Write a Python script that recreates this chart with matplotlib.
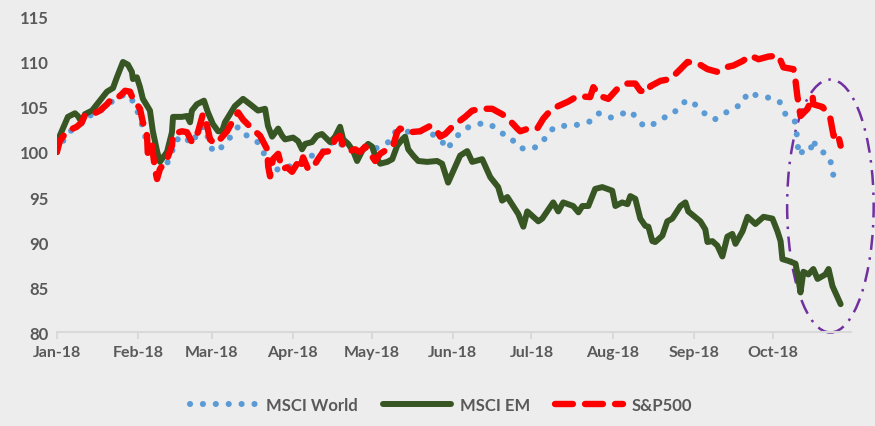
import matplotlib
matplotlib.use("Agg")
import matplotlib.pyplot as plt
import matplotlib.dates as mdates
from matplotlib.patches import Ellipse
import pandas as pd

# days since 2018-01-01, index level (rebased to 100)
em_days = [0, 1.1, 4.2, 6.9, 8.0, 9.5, 10.7, 13.4, 16.4, 19.1, 21.4, 22.9, 25.2, 27.1, 28.6, 29, 30.5,
           31.7, 32.8, 35.5, 36.6, 38.2, 39.3, 40.5, 42, 43.9, 44.3, 47.7, 49.6, 50.8, 51.5, 53.4, 56.1,
           57.6, 59.5, 61.5, 63, 64.1, 66, 67.9, 71, 73.7, 76.7, 79.4, 80.5, 82.1, 84.4, 85.9, 87, 90.1,
           92, 93.5, 94.7, 97.3, 99.2, 101.1, 104.2, 106.1, 108, 109.2, 111.1, 113, 114.5, 116.4, 118.7,
           120.2, 121.4, 123.3, 126, 127.9, 129.8, 131.7, 132.8, 134, 135.9, 137.8, 141.2, 145, 146.9,
           149.2, 153.8, 156.5, 158.4, 162.2, 165.3, 168.3, 169.8, 171.8, 176, 177.9, 179.4, 183.6, 185.1,
           189.3, 191.2, 193.1, 196.9, 198.9, 200.4, 202.7, 205.3, 208, 211.8, 213, 215.6, 217.6, 218.7,
           220.6, 222.5, 224.4, 225.6, 227.1, 228.2, 230.9, 232.8, 234.7, 237.8, 239.7, 240.8, 245.4,
           247.3, 248.1, 250, 251.9, 253.8, 255.7, 257.6, 258.8, 261.5, 263.4, 266.4, 269.5, 272.9, 274.8,
           276, 276.7, 279, 281.7, 282.8, 283.6, 284.7, 286.6, 288.5, 290.1, 293.1, 294.3, 295.8, 296.9,
           298.9]
em_vals = [100, 101.8, 103.9, 104.3, 104, 103.3, 104.2, 104.6, 105.7, 106.7, 107.1, 108.3, 110, 109.7,
           108.9, 108.1, 108.3, 107.2, 105.9, 104.6, 102.3, 100.1, 98.9, 99.4, 100, 102.2, 103.9, 103.9,
           104, 103.3, 104.6, 105.3, 105.7, 104.4, 103.1, 102.3, 102.3, 103.3, 104.2, 105.1, 105.9, 105.3,
           104.6, 104.8, 102.9, 101.7, 102.6, 101.8, 101.4, 101.6, 101.2, 100.3, 100.9, 101.1, 101.8, 102,
           101.1, 101.7, 102.8, 101.4, 100.9, 100.1, 99, 100.1, 100.9, 100.6, 99.6, 98.7, 98.9, 99.2, 100.7,
           101.4, 101.7, 100.3, 99.6, 99, 98.9, 99, 98.7, 96.6, 99.6, 100.1, 98.9, 99.2, 97.2, 96.1, 94.6,
           95, 93.1, 91.7, 93.4, 92.3, 92.6, 94.4, 93.4, 94.4, 94, 93.3, 94, 94, 95.9, 96.1, 95.7, 94, 94.4,
           94.2, 95.1, 94.8, 92.6, 91.8, 91.7, 90.1, 90, 90.7, 92.3, 92.6, 94, 94.4, 93.4, 92.3, 91.4, 90,
           90.1, 89.6, 88.4, 90.6, 90.9, 89.8, 91.2, 92.8, 92, 92.8, 92.6, 91.2, 90.1, 88.1, 87.9, 87.6,
           85.9, 84.4, 86.7, 86.4, 87, 85.9, 86.4, 87, 85.1, 84.4, 83.1]

spx_days = [0, 1.1, 3.8, 7.6, 9.5, 10.7, 13.7, 16.4, 19.1, 21.4, 24, 26, 27.9, 29, 31.7, 32.8, 34.4,
            34.7, 36.3, 37.4, 38.2, 39.3, 42, 43.9, 44.3, 47.7, 49.6, 51.5, 53.8, 55.7, 57.3, 58.4, 60.3,
            62.2, 64.9, 66.8, 69.1, 71, 74.4, 77.5, 80.2, 80.6, 81.3, 82.4, 84.4, 85.9, 87.8, 89.7, 91.6,
            92.7, 93.9, 95.8, 97.7, 99.6, 101.5, 104.2, 106.1, 108, 109.2, 111.8, 113.7, 115.6, 117.6,
            119.5, 121.4, 123.3, 126, 128.2, 129.8, 130.9, 134.7, 138.5, 142.4, 145, 146.2, 148.1, 151.1,
            155.7, 158.4, 162.2, 166, 169.8, 172.1, 175.6, 176.7, 179.8, 183.2, 185.5, 188.2, 191.2, 195,
            198.5, 203.4, 204.6, 207.3, 210.3, 213.7, 217.6, 220.6, 222.5, 225.6, 226.3, 230.2, 234,
            237.8, 240.5, 244.7, 248.1, 251.9, 255, 258, 261.5, 264.5, 267.6, 271.4, 275.2, 277.1, 280.9,
            281.7, 282.4, 283.6, 286.3, 288.2, 288.5, 292, 293.1, 295, 296.2, 297.7, 298.9]
spx_vals = [100, 101.2, 102.3, 102.8, 103.3, 104.1, 104.2, 104.6, 105.3, 106.1, 106.2, 106.8, 106.7,
            105.9, 104.8, 103.3, 101.8, 99.6, 100.7, 98.1, 97, 98.1, 99.2, 100.7, 102, 102.3, 102.2,
            101.1, 102.2, 104.2, 102.9, 101.4, 100.9, 101.4, 102.3, 103.3, 104.4, 103.6, 102.6, 101.8,
            100.3, 98.4, 97.3, 99.2, 99.8, 98.1, 98.3, 97.8, 98.7, 98.1, 99.4, 98.1, 98.3, 99.2, 100,
            100.1, 101.4, 101.8, 100.6, 100.1, 100.3, 100, 100.6, 99.8, 99, 99.8, 100.3, 100.7, 102.2,
            102.6, 102.2, 102.3, 102.9, 102.3, 101.7, 102, 102.9, 103.9, 104.6, 104.8, 104.8, 104.2,
            103.7, 102.6, 102.3, 102.6, 102.6, 103.7, 104.6, 105.1, 105.6, 106.2, 106.1, 107.2, 106.2,
            105.9, 107, 107.6, 107.6, 106.8, 106.7, 107.3, 107.9, 108.1, 109.2, 110, 109.8, 109.2, 108.9,
            109.4, 109.6, 110.1, 110.7, 110.3, 110.6, 110.7, 109.4, 109.2, 107.9, 106.2, 104, 104.8,
            106.2, 105.3, 105, 104.6, 103.7, 101.8, 102.2, 100.7]

world_days = [0, 2.3, 5, 8.8, 11.5, 15.3, 17.6, 21.4, 24, 27.1, 29.8, 32.4, 34.7, 36.3, 38.6, 42, 43.9,
              45, 48.1, 51.5, 53.4, 56.1, 59.2, 61.5, 64.1, 66.8, 69.1, 72.5, 76.3, 80.2, 82.4, 86.3,
              90.1, 93.9, 99.2, 102.3, 104.2, 106.9, 109.2, 113, 115.6, 118.3, 120.6, 124.4, 127.9, 129,
              132.1, 135.9, 139.3, 143.1, 146.9, 148.5, 150.4, 153.1, 155.7, 159.9, 164.1, 167.9, 170.2,
              172.9, 175.6, 178.6, 181.7, 185.1, 187.4, 190.8, 196.6, 199.6, 203.4, 206.5, 210.7, 214.1,
              218, 221, 223.7, 225.6, 227.5, 231.3, 234.7, 237.4, 240.5, 244.3, 247.3, 250.8, 254.6, 258,
              261.5, 263.4, 267.9, 272.1, 275.6, 277.5, 281.3, 282.1, 282.4, 283.2, 284.4, 287.4, 288.2,
              290.1, 293.9, 295.8, 296.2, 297.3]
world_vals = [100, 101.2, 102.3, 102.9, 104, 104.2, 104.8, 105.7, 106.2, 106.4, 105.3, 103.1, 100.6,
              100, 99, 98.7, 100, 101.2, 101.8, 100.9, 102, 102.9, 100.3, 100, 101.1, 101.8, 102.8, 101.8,
              101.2, 99.2, 97.8, 98.4, 98.4, 98.7, 100.1, 100.1, 100.9, 101.4, 100.6, 100.1, 100.3, 100.6,
              100.3, 100.7, 101.4, 102.2, 102.3, 102.2, 102.3, 102, 101.2, 100.3, 100.9, 101.9, 102.6,
              103.1, 103.2, 102.6, 102, 101.7, 100.6, 100.3, 100.4, 101, 102.2, 102.9, 102.9, 103.1,
              103.4, 104.3, 103.8, 104, 104.6, 103.9, 102.9, 102.8, 103.1, 103.8, 104.1, 105.1, 105.8,
              105.1, 104.2, 103.6, 104.3, 104.8, 105.4, 106.6, 106.2, 106, 105.6, 104.3, 103.6, 102.2,
              100.9, 99.6, 100.1, 100.1, 101.4, 100.3, 99.7, 98.4, 97.1, 97.2]

month_ticks = ["Jan-18", "Feb-18", "Mar-18", "Apr-18", "May-18", "Jun-18", "Jul-18", "Aug-18",
               "Sep-18", "Oct-18"]

start = pd.Timestamp("2018-01-01")
def to_dates(days):
    return [start + pd.Timedelta(days=d) for d in days]

bg = "#ededed"
plt.rcParams["font.family"] = ["Lato", "DejaVu Sans"]

fig = plt.figure(figsize=(8.75, 4.27), dpi=100, facecolor=bg)
ax = fig.add_axes([0.065, 0.22, 0.908, 0.738], facecolor=bg)

ax.plot(to_dates(world_days), world_vals, color="#5b9bd5", lw=4.4,
        ls=(0, (0.01, 2.1)), dash_capstyle="round", label="MSCI World")
ax.plot(to_dates(em_days), em_vals, color="#375623", lw=4.3, solid_joinstyle="round",
        solid_capstyle="round", label="MSCI EM")
ax.plot(to_dates(spx_days), spx_vals, color="#ff0000", lw=4.6,
        ls=(0, (2.8, 1.9)), dash_capstyle="round", label="S&P500")

# highlight of the October sell-off
c = mdates.date2num(start + pd.Timedelta(days=295))
ell = Ellipse((c, 94.0), 33, 28.1, fill=False, edgecolor="#7030a0", lw=1.8,
              ls=(0, (6, 3, 1, 3)), clip_on=False)
ax.add_patch(ell)

ax.set_ylim(80, 115)
ax.set_yticks(range(80, 116, 5))
ax.set_xlim(start, pd.Timestamp("2018-10-31"))
ax.set_xticks(pd.date_range("2018-01-01", "2018-10-01", freq="MS"))
ax.set_xticklabels(month_ticks)

for s in ["top", "right", "left"]:
    ax.spines[s].set_visible(False)
ax.spines["bottom"].set_color("#d9d9d9")
ax.spines["bottom"].set_linewidth(1.5)
ax.tick_params(axis="y", length=0, labelsize=12, labelcolor="#595959", pad=6)
ax.tick_params(axis="x", length=5, width=1.5, color="#d9d9d9", labelsize=11.5,
               labelcolor="#595959", pad=4)
for lab in ax.get_xticklabels() + ax.get_yticklabels():
    lab.set_fontweight("bold")

leg = fig.legend(loc="center", bbox_to_anchor=(0.504, 0.05), ncol=3, frameon=False,
                 handlelength=4.1, columnspacing=1.5, handletextpad=0.5,
                 prop={"weight": "bold", "size": 12})
for t in leg.get_texts():
    t.set_color("#595959")

fig.savefig("out.png", dpi=100, facecolor=bg)
